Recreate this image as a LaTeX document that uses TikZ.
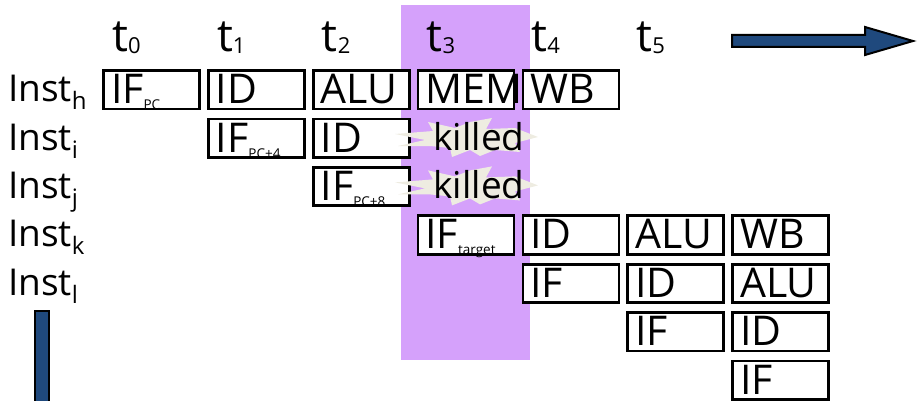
\documentclass[tikz,border=0pt]{standalone}
\usepackage{fontspec}
\setmainfont{Open Sans}
\definecolor{stallband}{HTML}{D5A1FB}
\definecolor{burst}{HTML}{EEECE1}
\definecolor{timeblue}{HTML}{1F497D}
\newcommand\pcsub[1]{\raisebox{-6pt}{\fontsize{13.5}{13.5}\selectfont #1}}
\newcommand\instlabel[1]{Inst\raisebox{-8pt}{\fontsize{24}{24}\selectfont #1}}
\newcommand\tlabel[1]{t\raisebox{-2pt}{\fontsize{22}{22}\selectfont #1}}
\begin{document}
\begin{tikzpicture}[x=1pt,y=-1pt,
  stagebox/.style={draw=black, fill=white, line width=2.8pt,
    minimum width=96pt, minimum height=38.5pt,
    inner xsep=7.5pt, inner ysep=0pt, text width=81pt, align=left,
    text height=28pt, text depth=0pt,
    font=\fontsize{41}{41}\selectfont},
  rowlabel/.style={anchor=base west, inner sep=0pt, font=\fontsize{37}{37}\selectfont},
  collabel/.style={anchor=base west, inner sep=0pt, font=\fontsize{45}{45}\selectfont},
  killtext/.style={anchor=base, inner sep=0pt, font=\fontsize{37}{37}\selectfont},
  burstshape/.style={fill=burst, draw=none},
  bigarrow/.style={fill=timeblue, draw=black, line width=2pt, line join=miter}
]
\clip (0,0) rectangle (917,401);

% squashed stage (t3) highlighted
\fill[stallband] (401,5) rectangle (530,360);

% time axis labels
\node[collabel] (t0) at (112,52) {\tlabel{0}};
\node[collabel] (t1) at (216.8,52) {\tlabel{1}};
\node[collabel] (t2) at (321.7,52) {\tlabel{2}};
\node[collabel] (t3) at (426.5,52) {\tlabel{3}};
\node[collabel] (t4) at (531.4,52) {\tlabel{4}};
\node[collabel] (t5) at (636.2,52) {\tlabel{5}};

% instruction labels
\node[rowlabel] (ih) at (8,101.7) {\instlabel{h}};
\node[rowlabel] (ii) at (8,150.1) {\instlabel{i}};
\node[rowlabel] (ij) at (8,198.5) {\instlabel{j}};
\node[rowlabel] (ik) at (8,246.9) {\instlabel{k}};
\node[rowlabel] (il) at (8,295.3) {\instlabel{l}};

% time arrow
\draw[bigarrow] (732,35) -- (865,35) -- (865,27) -- (913,41) -- (865,55)
  -- (865,47) -- (732,47) -- cycle;
% instruction arrow (head runs off the bottom)
\draw[bigarrow] (35,311) rectangle (49,430);

% pipeline stages
\newcommand\stage[4]{\node[stagebox] (#1) at ({151.5+104.85*#2},{89.75+48.4*#3}) {#4};}
\stage{h0}{0}{0}{IF\pcsub{PC}}
\stage{h1}{1}{0}{ID}
\stage{h2}{2}{0}{ALU}
\stage{h3}{3}{0}{MEM}
\stage{h4}{4}{0}{WB}
\stage{i1}{1}{1}{IF\pcsub{PC+4}}
\stage{i2}{2}{1}{ID}
\stage{j2}{2}{2}{IF\pcsub{PC+8}}
\stage{k3}{3}{3}{IF\pcsub{target}}
\stage{k4}{4}{3}{ID}
\stage{k5}{5}{3}{ALU}
\stage{k6}{6}{3}{WB}
\stage{l4}{4}{4}{IF}
\stage{l5}{5}{4}{ID}
\stage{l6}{6}{4}{ALU}
\stage{m5}{5}{5}{IF}
\stage{m6}{6}{5}{ID}
\stage{n6}{6}{6}{IF}

% squashed instructions
\foreach \dy in {0, 48.4} {
  \begin{scope}[yshift=-\dy pt]
    \fill[burstshape] (395,134) -- (433,131) -- (428,122) -- (455,128) -- (470,122)
      -- (492,118) -- (486,129) -- (515,128) -- (538,137) -- (515,143) -- (520,152)
      -- (495,150) -- (480,156) -- (470,150) -- (452,157) -- (450,148) -- (430,146)
      -- (398,146) -- (425,140) -- cycle;
  \end{scope}
}
\node[killtext] (ki) at (479,150) {killed};
\node[killtext] (kj) at (479,198.4) {killed};
\end{tikzpicture}
\end{document}
